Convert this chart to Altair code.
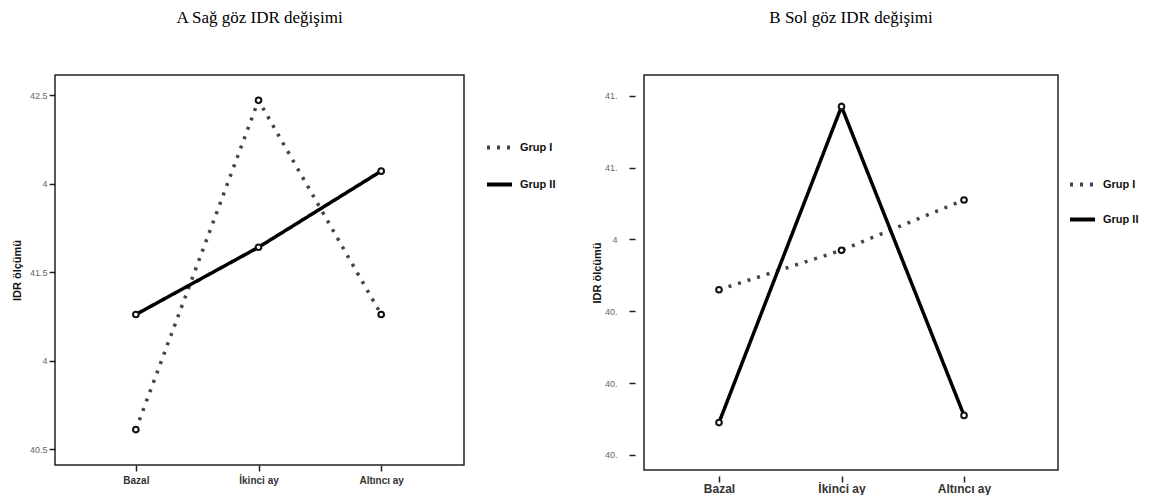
import altair as alt
import pandas as pd

visits = ["Bazal", "İkinci ay", "Altıncı ay"]
groups = ["Grup I", "Grup II"]

# A: right eye IDR (sağ göz)
right_eye_g1 = [40.61, 42.47, 41.26]
right_eye_g2 = [41.26, 41.64, 42.07]
# B: left eye IDR (sol göz)
left_eye_g1 = [40.86, 40.97, 41.11]
left_eye_g2 = [40.49, 41.37, 40.51]

a_ticks = [40.5, 41.0, 41.5, 42.0, 42.5]
a_tick_labels = ["40.5", "4", "41.5", "4", "42.5"]
b_ticks = [40.4, 40.6, 40.8, 41.0, 41.2, 41.4]
b_tick_labels = ["40.", "40.", "40.", "4", "41.", "41."]

titles = ["A Sağ göz IDR değişimi", "B Sol göz IDR değişimi"]
y_title = "IDR ölçümü"


def make_df(g1, g2):
    rows = []
    for grp, vals in zip(groups, [g1, g2]):
        for i, (v, val) in enumerate(zip(visits, vals)):
            rows.append({"idx": i, "visit": v, "group": grp, "value": val})
    return pd.DataFrame(rows)


def label_expr(ticks, labels):
    expr = "''"
    for t, l in reversed(list(zip(ticks, labels))):
        expr = f"abs(datum.value - {t}) < 0.001 ? '{l}' : ({expr})"
    return expr


x_expr = "[" + ",".join(f"'{v}'" for v in visits) + "][datum.value]"


def panel(g1, g2, ticks, tlabels, ydom, xdom, title, w, h, yoff, xoff,
          xlab_size, xlab_pad, ylab_pad, leg_x, leg_y, leg_pad, ytitle_pad):
    df = make_df(g1, g2)
    xenc = alt.X(
        "idx:Q",
        scale=alt.Scale(domain=xdom, nice=False, zero=False),
        axis=alt.Axis(
            values=[0, 1, 2], labelExpr=x_expr, title=None, grid=False,
            domain=False, ticks=True, tickSize=6, tickWidth=1.5,
            tickColor="#222", offset=xoff, labelFont="Liberation Sans",
            labelFontWeight="bold", labelFontSize=xlab_size,
            labelColor="#333", labelPadding=xlab_pad,
        ),
    )
    yenc = alt.Y(
        "value:Q",
        scale=alt.Scale(domain=ydom, nice=False, zero=False),
        axis=alt.Axis(
            values=ticks, labelExpr=label_expr(ticks, tlabels), title=y_title,
            grid=False, domain=False, tickSize=6, tickWidth=1.5,
            tickColor="#222", offset=yoff, labelFont="Liberation Sans",
            labelFontSize=9, labelColor="#666", labelPadding=ylab_pad,
            titleFont="Liberation Sans", titleFontWeight="bold",
            titleFontSize=11, titleColor="#111", titlePadding=ytitle_pad,
        ),
    )
    legend = alt.Legend(
        title=None, orient="none", legendX=leg_x, legendY=leg_y,
        symbolType="stroke", symbolSize=625, symbolStrokeWidth=4,
        labelFont="Liberation Sans", labelFontWeight="bold",
        labelFontSize=11, labelColor="#111", rowPadding=leg_pad,
        labelOffset=6,
    )
    lines = alt.Chart(df).mark_line(strokeCap="butt", strokeWidth=3.5).encode(
        x=xenc,
        y=yenc,
        strokeDash=alt.StrokeDash(
            "group:N",
            scale=alt.Scale(domain=groups, range=[[3, 7], [1, 0]]),
            legend=legend,
        ),
        color=alt.Color(
            "group:N",
            scale=alt.Scale(domain=groups, range=["#444444", "#000000"]),
            legend=legend,
        ),
        detail="group:N",
    )
    pts = alt.Chart(df).mark_point(
        shape="circle", filled=True, fill="white", stroke="#111",
        strokeWidth=2, size=32, opacity=1,
    ).encode(x="idx:Q", y="value:Q")
    return alt.layer(lines, pts).properties(
        width=w, height=h,
        title=alt.TitleParams(
            title, font="Liberation Serif", fontSize=17, fontWeight="normal",
            color="#000", anchor="middle", frame="group", offset=48,
        ),
    )


left = panel(right_eye_g1, right_eye_g2, a_ticks, a_tick_labels,
             [40.41, 42.613], [-0.659, 2.675], titles[0], 409, 390,
             0, 0, 10, 4, 2, 430, 58, 14, 7)
right = panel(left_eye_g1, left_eye_g2, b_ticks, b_tick_labels,
              [40.358, 41.458], [-0.612, 2.767], titles[1], 414, 395,
              9, 6, 12, 1, 12, 424, 95, 12, 2)

chart = alt.hconcat(left, right, spacing=33).resolve_scale(
    color="independent", strokeDash="independent"
).resolve_legend(
    color="independent", strokeDash="independent"
).properties(
    padding={"left": 2, "top": 0, "right": 0, "bottom": 0}
).configure_view(stroke="#222", strokeWidth=1.5)

chart.save("out.html", embed_options={"renderer": "svg", "actions": False})
